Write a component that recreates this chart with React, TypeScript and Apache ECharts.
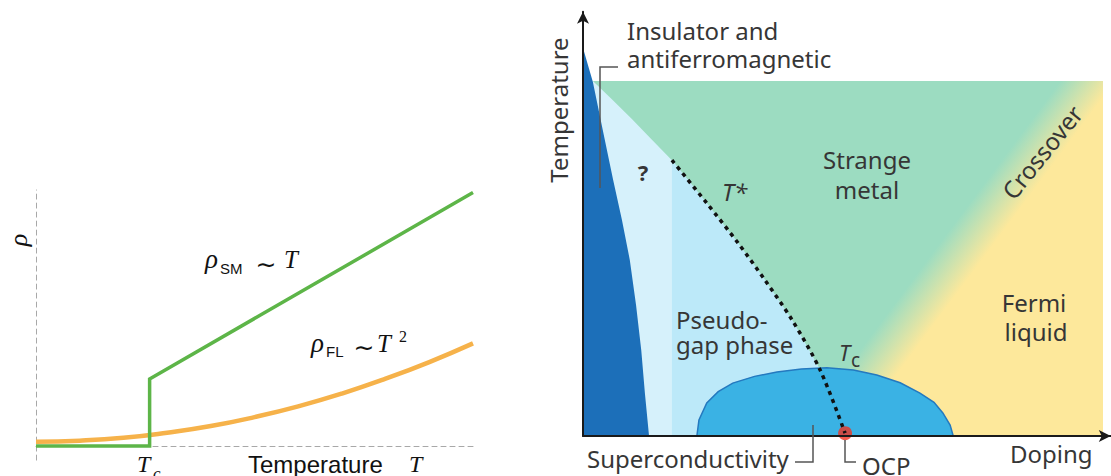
import React, { useEffect, useRef } from "react";
import * as echarts from "echarts";

// ---------- Left panel: resistivity against temperature ----------
const TEMP = [0, 0.1, 0.2, 0.3, 0.4, 0.5, 0.6, 0.7, 0.8, 0.9, 1.0];
const RHO_FL = [0.17, 0.21, 0.32, 0.52, 0.78, 1.13, 1.55, 2.05, 2.63, 3.28, 4.01];
const T_C = 0.26;
const RHO_SM: [number, number][] = [
  [0, 0],
  [T_C, 0],
  [T_C, 2.62],
  [1, 9.9],
];

// ---------- Right panel: cuprate phase diagram, [doping, temperature] ----------
const AFM_REGION: [number, number][] = [
  [0, 1.093], [0.019, 0.997], [0.038, 0.862], [0.058, 0.721], [0.075, 0.608],
  [0.09, 0.496], [0.102, 0.369], [0.112, 0.242], [0.119, 0.121], [0.127, 0], [0, 0],
];
const PSEUDOGAP_ONSET: [number, number][] = [
  [0.019, 1.0], [0.055, 0.949], [0.094, 0.893], [0.133, 0.834],
];
const T_STAR: [number, number][] = [
  [0.171, 0.777], [0.238, 0.656], [0.298, 0.544], [0.35, 0.439],
  [0.402, 0.327], [0.456, 0.186], [0.504, 0.008],
];
const SC_DOME: [number, number][] = [
  [0.219, 0], [0.223, 0.045], [0.238, 0.093], [0.26, 0.125], [0.288, 0.149],
  [0.33, 0.168], [0.373, 0.18], [0.42, 0.189], [0.469, 0.192], [0.52, 0.186],
  [0.565, 0.172], [0.61, 0.15], [0.648, 0.121], [0.675, 0.095], [0.692, 0.065],
  [0.706, 0.031], [0.712, 0],
];
const PHASE_BOX: [number, number][] = [[0, 0], [1, 0], [1, 1], [0, 1]];
const CROSSOVER: [number, number][] = [[0.971, 1.0], [0.729, 0.524]];
const OCP: [number, number] = [0.504, 0.008];

const C = {
  green: "#5db548",
  orange: "#f6b24a",
  afm: "#1c6fb9",
  pgOuter: "#d6f1fb",
  pgInner: "#bce9f9",
  strange: "#9cdcc1",
  fermi: "#fde89b",
  dome: "#3ab2e4",
  domeEdge: "#2479bf",
  ocp: "#ee3322",
  text: "#363636",
  leader: "#555555",
};

const SANS = "Noto Sans";
const MATH = "Liberation Serif";
const HELV = "Liberation Sans";

function polygonSeries(name: string, points: [number, number][], style: any) {
  return {
    type: "custom",
    name,
    xAxisIndex: 1,
    yAxisIndex: 1,
    silent: true,
    data: points,
    renderItem: (params: any, api: any) => {
      if (params.dataIndex !== 0) return null;
      const pts = points.map((p) => api.coord(p));
      const st = typeof style === "function" ? style(api) : style;
      return { type: "polygon", shape: { points: pts }, style: st };
    },
  };
}

// green-to-yellow fill, blended across the crossover line
function crossoverFill(api: any) {
  const a = api.coord(CROSSOVER[0]);
  const b = api.coord(CROSSOVER[1]);
  const dx = b[0] - a[0];
  const dy = b[1] - a[1];
  const len = Math.hypot(dx, dy);
  const nx = dy / len;
  const ny = -dx / len;
  const mx = (a[0] + b[0]) / 2;
  const my = (a[1] + b[1]) / 2;
  const h = 22;
  return {
    fill: new echarts.graphic.LinearGradient(
      mx - h * nx, my - h * ny, mx + h * nx, my + h * ny,
      [
        { offset: 0, color: C.strange },
        { offset: 1, color: C.fermi },
      ],
      true
    ),
  };
}

function txt(
  text: string, x: number, y: number,
  o: { size?: number; family?: string; style?: string; weight?: string; align?: string; rot?: number; fill?: string } = {}
) {
  return {
    type: "text",
    x, y,
    z: 100,
    rotation: o.rot || 0,
    silent: true,
    style: {
      text,
      fontSize: o.size || 24,
      fontFamily: o.family || SANS,
      fontStyle: o.style || "normal",
      fontWeight: o.weight || "normal",
      fill: o.fill || C.text,
      align: o.align || "left",
      verticalAlign: "middle",
    },
  };
}

function leader(points: number[][]) {
  return {
    type: "polyline",
    z: 100,
    silent: true,
    shape: { points },
    style: { stroke: C.leader, lineWidth: 1.5, fill: null },
  };
}

export default function App() {
  const ref = useRef<HTMLDivElement>(null);

  useEffect(() => {
    if (!ref.current) return;
    const chart = echarts.init(ref.current, undefined, { renderer: "svg" });

    const hidden = {
      axisTick: { show: false },
      axisLabel: { show: false },
      splitLine: { show: false },
    };
    const dashed = { show: true, onZero: true, lineStyle: { color: "#a8a8a8", width: 1, type: [5, 4] } };
    const arrowAxis = {
      show: true,
      onZero: false,
      symbol: ["none", "arrow"],
      symbolSize: [9, 12],
      lineStyle: { color: "#1a1a1a", width: 2 },
    };

    const option: any = {
      animation: false,
      grid: [
        { left: 36, top: 190, width: 437, height: 270.1 },
        { left: 583, top: 11.8, width: 527.8, height: 424.2 },
      ],
      xAxis: [
        { gridIndex: 0, type: "value", min: 0, max: 1, axisLine: dashed, ...hidden },
        { gridIndex: 1, type: "value", min: 0, max: 1.015, axisLine: arrowAxis, z: 10, ...hidden },
      ],
      yAxis: [
        { gridIndex: 0, type: "value", min: -0.55, max: 10, axisLine: dashed, ...hidden },
        { gridIndex: 1, type: "value", min: 0, max: 1.195, axisLine: arrowAxis, z: 10, ...hidden },
      ],
      series: [
        polygonSeries("Strange metal / Fermi liquid", PHASE_BOX, crossoverFill),
        polygonSeries("Pseudogap onset", [[0, 1], ...PSEUDOGAP_ONSET, ...T_STAR, [0, 0]], { fill: C.pgOuter }),
        polygonSeries("Pseudogap phase", [...T_STAR, [T_STAR[0][0], 0]], { fill: C.pgInner }),
        polygonSeries("Insulator and antiferromagnetic", AFM_REGION, { fill: C.afm }),
        polygonSeries("Superconductivity", SC_DOME, { fill: C.dome, stroke: C.domeEdge, lineWidth: 1.5 }),
        {
          type: "line",
          name: "T*",
          xAxisIndex: 1,
          yAxisIndex: 1,
          data: T_STAR,
          smooth: 0.3,
          showSymbol: false,
          silent: true,
          lineStyle: { color: "#111", width: 3.5, type: [4, 4.5] },
        },
        {
          type: "scatter",
          name: "OCP",
          xAxisIndex: 1,
          yAxisIndex: 1,
          data: [OCP],
          symbolSize: 14,
          silent: true,
          itemStyle: { color: C.ocp },
        },
        {
          type: "line",
          name: "rho_FL",
          xAxisIndex: 0,
          yAxisIndex: 0,
          data: TEMP.map((t, i) => [t, RHO_FL[i]]),
          smooth: true,
          showSymbol: false,
          silent: true,
          lineStyle: { color: C.orange, width: 4.5 },
        },
        {
          type: "line",
          name: "rho_SM",
          xAxisIndex: 0,
          yAxisIndex: 0,
          data: RHO_SM,
          showSymbol: false,
          silent: true,
          lineStyle: { color: C.green, width: 3.5, join: "miter" },
        },
      ],
      graphic: [
        // left panel annotations
        txt("ρ", 18, 240, { family: MATH, style: "italic", size: 26, align: "center", rot: Math.PI / 2, fill: "#111" }),
        txt("ρ", 205, 259, { family: MATH, style: "italic", size: 27, fill: "#111" }),
        txt("SM", 220, 268, { family: HELV, size: 15, fill: "#111" }),
        txt("∼", 266, 264, { family: "DejaVu Sans", size: 25, align: "center", fill: "#111" }),
        txt("T", 284, 259, { family: MATH, style: "italic", size: 25, fill: "#111" }),
        txt("ρ", 311, 343, { family: MATH, style: "italic", size: 27, fill: "#111" }),
        txt("FL", 326, 351, { family: HELV, size: 15, fill: "#111" }),
        txt("∼", 364, 347, { family: "DejaVu Sans", size: 25, align: "center", fill: "#111" }),
        txt("T", 377, 343, { family: MATH, style: "italic", size: 25, fill: "#111" }),
        txt("2", 399, 336, { family: MATH, size: 16, fill: "#111" }),
        txt("T", 137, 464, { family: MATH, style: "italic", size: 24, fill: "#111" }),
        txt("c", 153, 473, { family: MATH, style: "italic", size: 17, fill: "#111" }),
        txt("Temperature", 248, 464, { family: HELV, size: 24, fill: "#111" }),
        txt("T", 409, 464, { family: MATH, style: "italic", size: 24, fill: "#111" }),

        // right panel annotations
        txt("Temperature", 558, 110, { align: "center", rot: Math.PI / 2 }),
        txt("Insulator and", 627, 30),
        txt("antiferromagnetic", 627, 58),
        leader([[600, 188], [600, 67], [618, 67]]),
        txt("?", 643, 172, { size: 22, weight: "bold", align: "center" }),
        txt("T*", 722, 191, { style: "italic" }),
        txt("Strange", 867, 159, { align: "center" }),
        txt("metal", 867, 189, { align: "center" }),
        txt("Crossover", 1042, 152, { align: "center", rot: (51 * Math.PI) / 180 }),
        txt("Pseudo-", 676, 319),
        txt("gap phase", 676, 344),
        txt("T", 839, 352, { style: "italic", size: 22 }),
        txt("c", 851, 360, { size: 19 }),
        txt("Fermi", 1034, 302, { align: "center" }),
        txt("liquid", 1036, 331, { align: "center" }),
        txt("Superconductivity", 587, 458),
        leader([[795, 462], [813, 462], [813, 425]]),
        txt("OCP", 862, 465),
        leader([[845, 440], [845, 462], [856, 462]]),
        txt("Doping", 1010, 453),
      ],
    };

    chart.setOption(option);
    return () => chart.dispose();
  }, []);

  return (
    <div
      ref={ref}
      style={{ position: "fixed", left: 0, top: 0, width: 1111, height: 476, background: "#fff" }}
    />
  );
}
